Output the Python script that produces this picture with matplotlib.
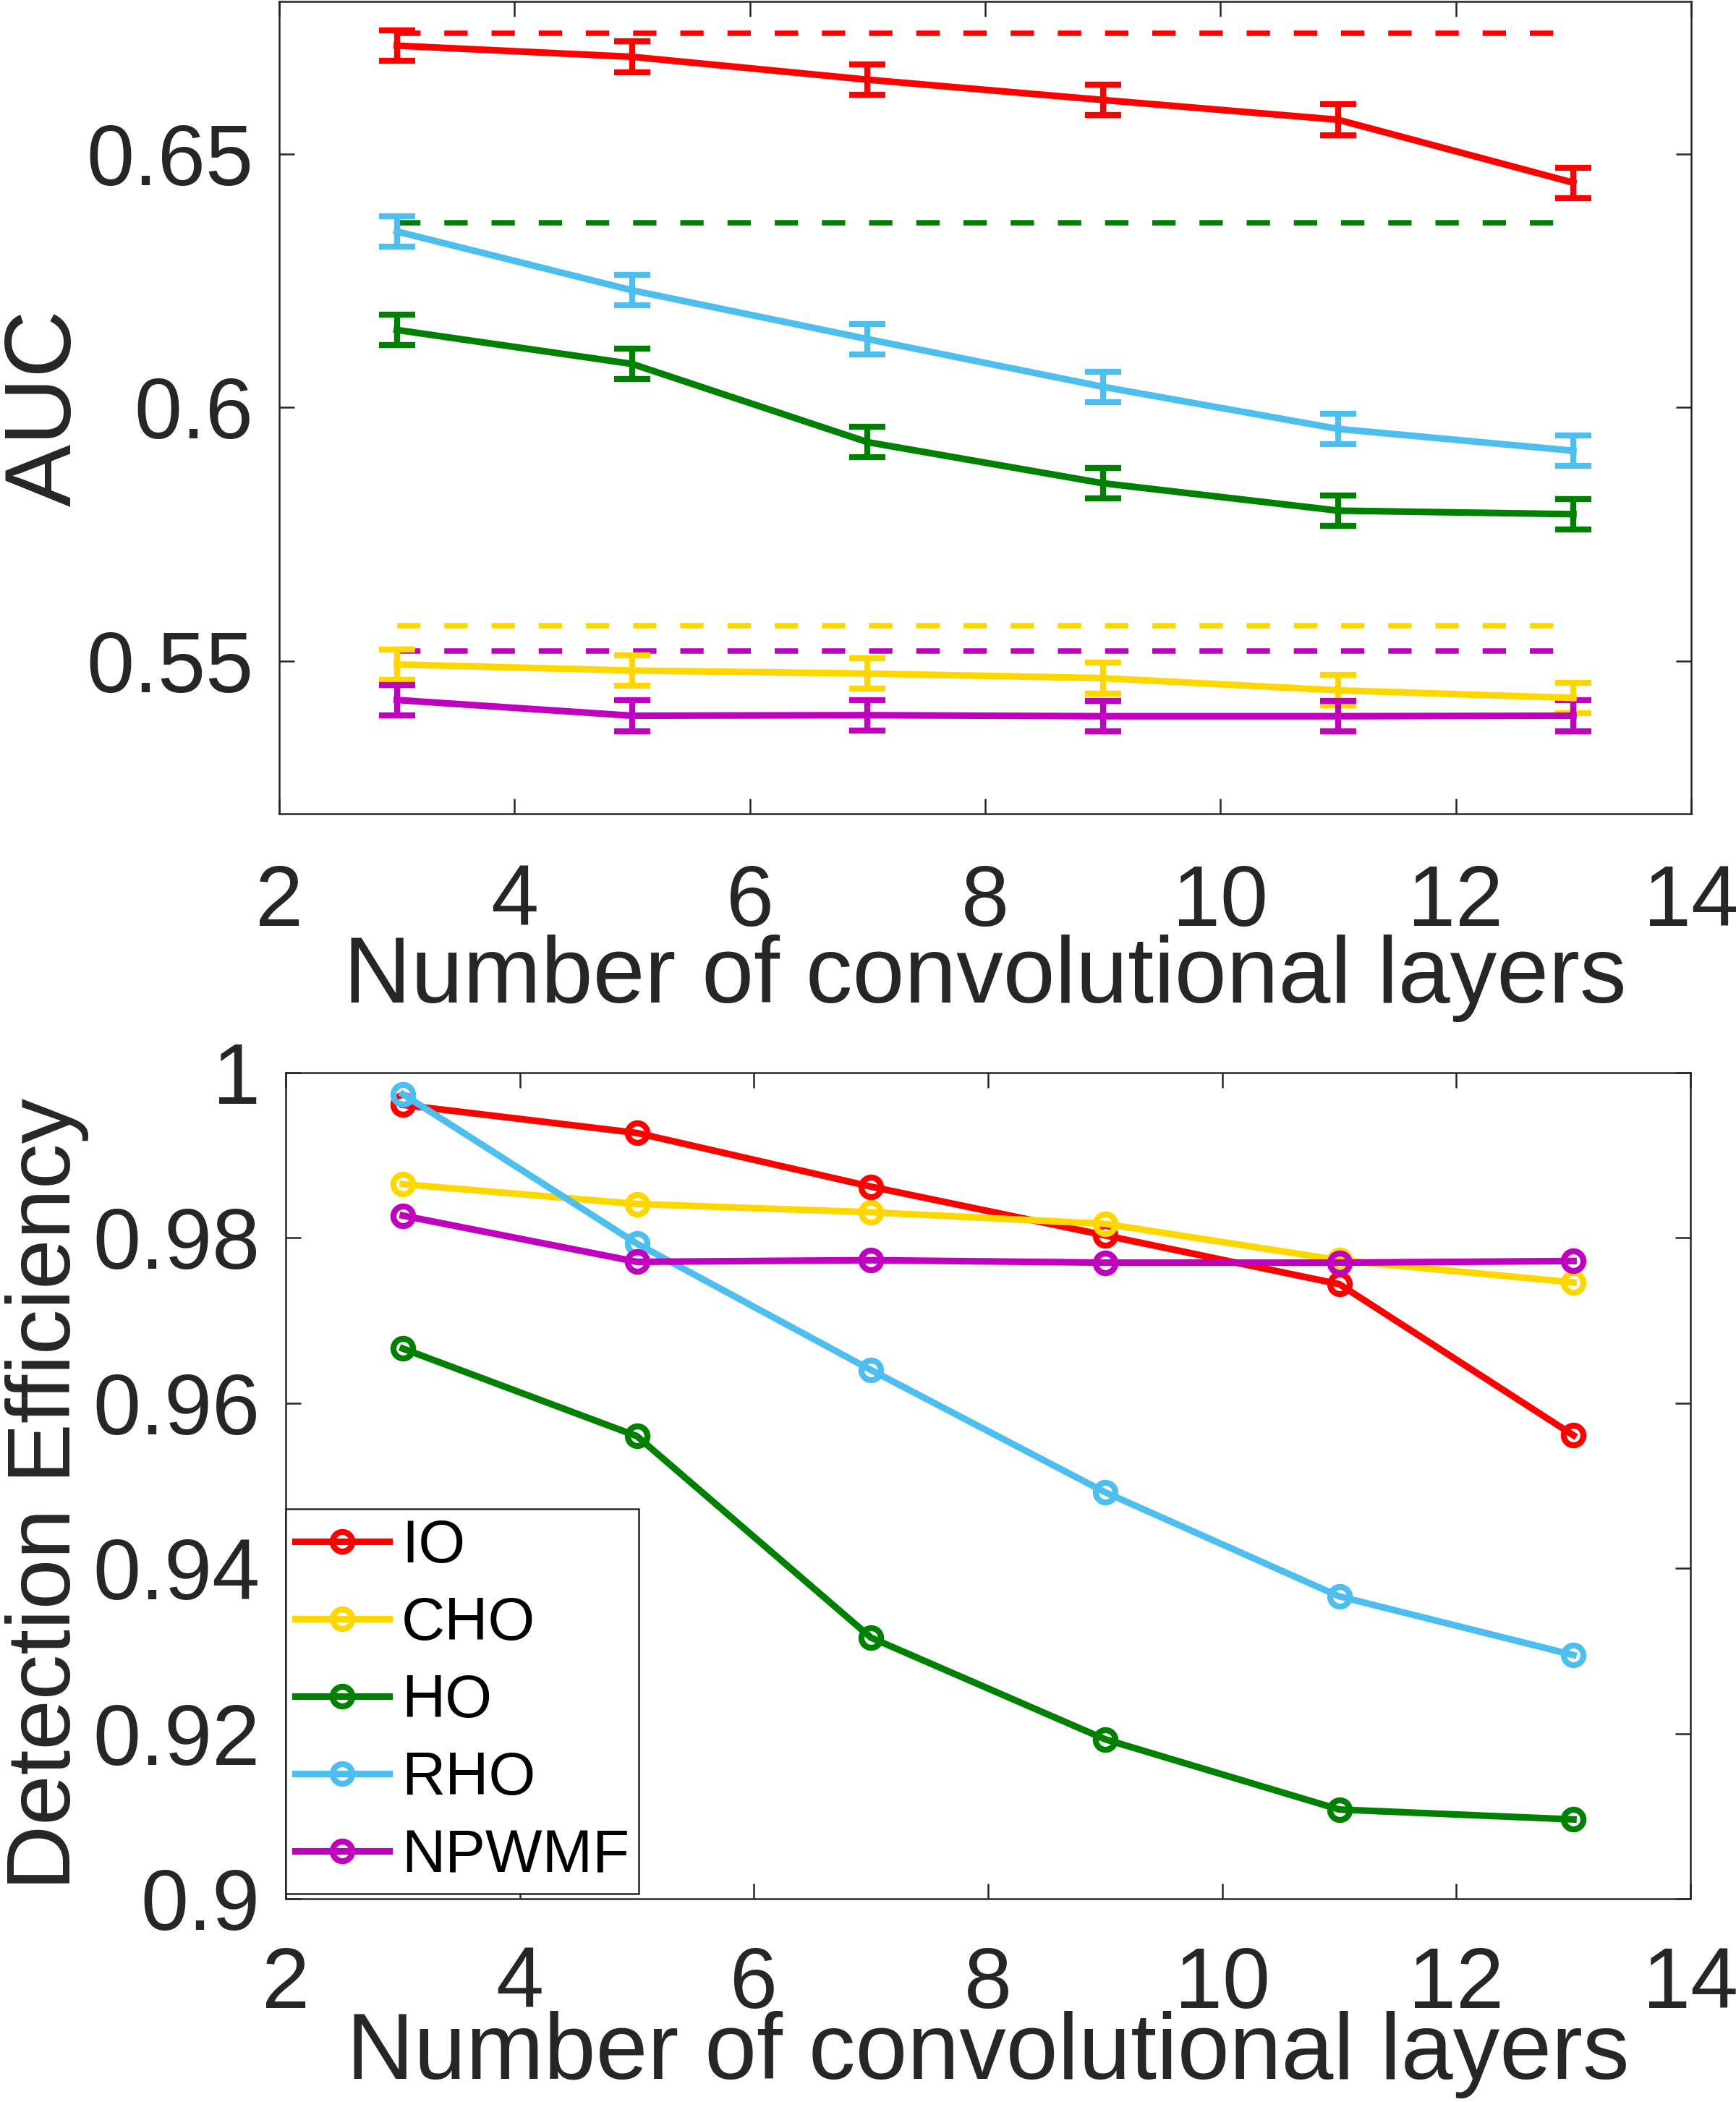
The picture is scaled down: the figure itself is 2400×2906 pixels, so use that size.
import matplotlib
matplotlib.use("Agg")
import matplotlib.pyplot as plt

# ---------------- data ----------------
layers = [3, 5, 7, 9, 11, 13]
names = ["IO", "CHO", "HO", "RHO", "NPWMF"]
colors = ["#FF0000", "#FFD700", "#008000", "#4DBEEE", "#BF00BF"]

# AUC of the CNN-approximated observers (top panel)
auc_io = [0.6713, 0.6691, 0.6646, 0.6606, 0.6567, 0.6443]
auc_cho = [0.5494, 0.5482, 0.5476, 0.5467, 0.5443, 0.5428]
auc_ho = [0.6153, 0.6086, 0.5932, 0.5851, 0.5797, 0.5790]
auc_rho = [0.6347, 0.6231, 0.6135, 0.6041, 0.5958, 0.5915]
auc_npwmf = [0.5424, 0.5393, 0.5394, 0.5392, 0.5392, 0.5393]
auc_err = [0.003, 0.003, 0.003, 0.003, 0.003, 0.003]

# reference AUC of the analytical observers (dashed lines)
ref_io = 0.6738
ref_cho = 0.5570
ref_ho = 0.6364
ref_npwmf = 0.5520

# detection efficiency (bottom panel)
eff_io = [0.9961, 0.9927, 0.9862, 0.9803, 0.9744, 0.9561]
eff_cho = [0.9865, 0.9841, 0.9831, 0.9817, 0.9773, 0.9746]
eff_ho = [0.9666, 0.9560, 0.9316, 0.9193, 0.9108, 0.9096]
eff_rho = [0.9974, 0.9793, 0.9640, 0.9492, 0.9366, 0.9295]
eff_npwmf = [0.9827, 0.9771, 0.9773, 0.9770, 0.9770, 0.9772]

xticks = [2, 4, 6, 8, 10, 12, 14]
auc_yticks = [0.55, 0.6, 0.65]
auc_yticklabels = ["0.55", "0.6", "0.65"]
eff_yticks = [0.9, 0.92, 0.94, 0.96, 0.98, 1.0]
eff_yticklabels = ["0.9", "0.92", "0.94", "0.96", "0.98", "1"]
xlabel = "Number of convolutional layers"

plt.rcParams["font.family"] = ["Liberation Sans", "DejaVu Sans"]
txt = "#262626"


def style_axes(ax, xpad):
    ax.set_xlim(2, 14)
    ax.set_xticks(xticks)
    ax.tick_params(direction="in", length=5, width=0.6, top=True, right=True,
                   labelsize=28.5, colors=txt)
    ax.tick_params(axis="x", pad=xpad)
    ax.tick_params(axis="y", pad=8.5)
    for s in ax.spines.values():
        s.set_linewidth(0.6)
        s.set_color(txt)


fig = plt.figure(figsize=(8, 2906 / 300), dpi=300)

# ---------------- top: AUC ----------------
ax1 = fig.add_axes([0.1608, 0.6129, 0.8133, 0.3864])
auc = [auc_io, auc_cho, auc_ho, auc_rho, auc_npwmf]
refs = [ref_io, ref_cho, ref_ho, ref_npwmf]
ref_cols = [colors[0], colors[1], colors[2], colors[4]]
for r, c in zip(refs, ref_cols):
    ax1.plot([layers[0], layers[-1]], [r, r], color=c, lw=1.8,
             linestyle=(0, (4.3, 4.4)))
for vals, c in zip(auc, colors):
    ax1.errorbar(layers, vals, yerr=auc_err, color=c, lw=2.2, elinewidth=2,
                 capsize=6, capthick=2)
ax1.set_ylim(0.52, 0.68)
ax1.set_yticks(auc_yticks)
ax1.set_yticklabels(auc_yticklabels)
style_axes(ax1, 16.5)
ax1.set_xlabel(xlabel, fontsize=31, color=txt, labelpad=-3)
ax1.set_ylabel("AUC", fontsize=31, color=txt, va="center")
ax1.yaxis.set_label_coords(-0.165, 0.5)

# ---------------- bottom: detection efficiency ----------------
ax2 = fig.add_axes([0.1646, 0.0967, 0.8092, 0.393])
eff = [eff_io, eff_cho, eff_ho, eff_rho, eff_npwmf]
for vals, c, n in zip(eff, colors, names):
    ax2.plot(layers, vals, color=c, lw=2.2, marker="o", ms=6.5, mew=2,
             mfc="none", label=n)
ax2.set_ylim(0.9, 1.0)
ax2.set_yticks(eff_yticks)
ax2.set_yticklabels(eff_yticklabels)
style_axes(ax2, 15.5)
ax2.set_xlabel(xlabel, fontsize=31, color=txt, labelpad=-5)
ax2.set_ylabel("Detection Efficiency", fontsize=30, color=txt, va="center")
ax2.yaxis.set_label_coords(-0.17, 0.49)

leg = ax2.legend(loc="lower left", bbox_to_anchor=(0.0, 0.006), borderaxespad=0,
                 fontsize=20, handlelength=1.57, handletextpad=0.2,
                 labelspacing=0.35, borderpad=0.15, fancybox=False,
                 framealpha=1, edgecolor="#262626")
leg.get_frame().set_linewidth(0.6)

plt.savefig("out.png", dpi=300)
plt.close()
